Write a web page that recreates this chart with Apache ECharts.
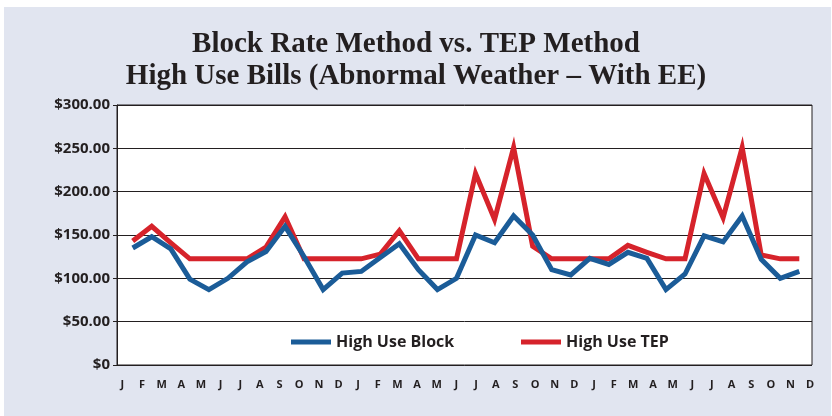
<!DOCTYPE html>
<html>
<head>
<meta charset="utf-8">
<script src="https://cdn.jsdelivr.net/npm/echarts@6/dist/echarts.min.js"></script>
<style>
html,body{margin:0;padding:0;background:#fff;}
#chart{width:832px;height:416px;}
</style>
</head>
<body>
<div id="chart"></div>
<script>
const months = ['J','F','M','A','M','J','J','A','S','O','N','D','J','F','M','A','M','J','J','A','S','O','N','D','J','F','M','A','M','J','J','A','S','O','N','D'];
const highUseBlock = [135,148,134,99,87,100,119,131,160,125,87,106,108,124,140,110,87,100,150,141,172,150,110,104,123,116,130,123,87,105,149,142,172,122,100,108];
const highUseTEP = [143,160,141,122.5,122.5,122.5,122.5,136,171,122.5,122.5,122.5,122.5,128,155,122.5,122.5,122.5,221,168,251,137,122.5,122.5,122.5,122.5,138,130,122.5,122.5,221,170,251,127,122.5,122.5];
const yTickValues = [0,50,100,150,200,250,300];
const yTickLabels = ['$0','$50.00','$100.00','$150.00','$200.00','$250.00','$300.00'];
const seriesNames = ['High Use Block','High Use TEP'];
const titleLines = ['Block Rate Method vs. TEP Method','High Use Bills (Abnormal Weather \u2013 With EE)'];

const TXT = '#231f20';
const BLUE = '#1b5c98';
const RED = '#d6232b';
const chart = echarts.init(document.getElementById('chart'), null, {renderer:'canvas'});

const option = {
  animation:false,
  backgroundColor:'#ffffff',
  graphic:[{type:'rect', z:-10, shape:{x:4,y:7,width:827,height:409}, style:{fill:'#e1e5f0'}}],
  title:{
    text: titleLines.join('\n'),
    left: 'center',
    top: 24,
    textStyle:{fontFamily:'Liberation Serif', fontWeight:'bold', fontSize:29, lineHeight:32, color:TXT}
  },
  legend:[
    {data:[seriesNames[0]], left:291, top:334, padding:0, icon:'rect', itemWidth:40, itemHeight:5, itemGap:6,
     textStyle:{fontFamily:'Open Sans', fontWeight:'bold', fontSize:16, color:TXT}},
    {data:[seriesNames[1]], left:521, top:334, padding:0, icon:'rect', itemWidth:40, itemHeight:5, itemGap:6,
     textStyle:{fontFamily:'Open Sans', fontWeight:'bold', fontSize:16, color:TXT}}
  ],
  grid:[
    {left:117, top:105, width:695, height:260, show:true, backgroundColor:'#ffffff', borderColor:TXT, borderWidth:1, z:0},
    {left:112.5, top:105, width:707.5, height:260, show:false},
    {left:132.7, top:105, width:666.6, height:260, show:false}
  ],
  xAxis:[
    {gridIndex:0, type:'category', data:months, show:false},
    {gridIndex:1, type:'category', data:months, boundaryGap:true,
     axisLine:{show:false}, axisTick:{show:false},
     axisLabel:{interval:0, margin:14, fontFamily:'Open Sans', fontWeight:'bold', fontSize:11, color:TXT}},
    {gridIndex:2, type:'category', data:months, boundaryGap:false, show:false}
  ],
  yAxis:[
    {gridIndex:0, type:'value', min:0, max:300, interval:50,
     axisLine:{show:true, lineStyle:{color:TXT, width:1}},
     axisTick:{show:true, length:4, lineStyle:{color:TXT}},
     splitLine:{show:true, lineStyle:{color:TXT, width:1}},
     axisLabel:{margin:7, fontFamily:'Open Sans', fontWeight:'bold', fontSize:15, color:TXT,
       formatter:(v)=>yTickLabels[yTickValues.indexOf(v)]}},
    {gridIndex:1, type:'value', min:0, max:300, show:false},
    {gridIndex:2, type:'value', min:0, max:300, show:false}
  ],
  series:[
    {name:seriesNames[1], type:'line', xAxisIndex:2, yAxisIndex:2, data:highUseTEP, symbol:'none',
     itemStyle:{color:RED}, lineStyle:{color:RED, width:5, join:'miter', miterLimit:10}, z:3},
    {name:seriesNames[0], type:'line', xAxisIndex:2, yAxisIndex:2, data:highUseBlock, symbol:'none',
     itemStyle:{color:BLUE}, lineStyle:{color:BLUE, width:5, join:'miter', miterLimit:10}, z:4}
  ]
};
chart.setOption(option);
</script>
</body>
</html>
